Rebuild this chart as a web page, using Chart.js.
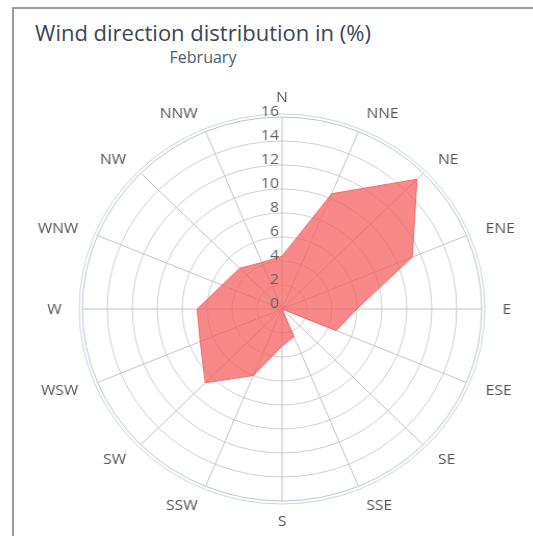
<!DOCTYPE html>
<html>
<head>
<meta charset="utf-8">
<script src="https://cdn.jsdelivr.net/npm/chart.js@4.4.1/dist/chart.umd.min.js"></script>
<style>
  html,body{margin:0;padding:0;background:#fff;overflow:hidden}
  body{width:533px;height:536px;position:relative;font-family:"Open Sans",sans-serif}
  #frame{position:absolute;left:12px;top:7px;width:700px;height:700px;border:2px solid #9c9c9c;box-sizing:border-box}
  #title{position:absolute;left:0;width:406px;top:21px;font-size:22px;line-height:1;color:#3d4652;white-space:nowrap;text-align:center}
  #sub{position:absolute;left:0;width:406px;top:49px;font-size:16px;line-height:1;color:#4b5c6e;text-align:center}
  #wrap{position:absolute;left:22px;top:0;width:520px;height:536px;transform:scaleX(1.04);transform-origin:260px 0}
</style>
</head>
<body>
<div id="frame"></div>
<div id="title">Wind direction distribution in (%)</div>
<div id="sub">February</div>
<div id="wrap"><canvas id="rose" width="520" height="536"></canvas></div>
<script>
const directions = ['N','NNE','NE','ENE','E','ESE','SE','SSE','S','SSW','SW','WSW','W','WNW','NW','NNW']
const february = [4.4, 10.4, 15.3, 11.3, 6.0, 4.7, 0, 2.5, 3.1, 6.0, 8.7, 7.1, 6.8, 5.2, 4.8, 4.2]
const radialMin = 0
const radialMax = 16
const radialStep = 2

// pane ring, tick labels left of the N axis, direction labels pushed out sideways
const roseExtras = {
  id: 'roseExtras',
  beforeDatasetsDraw(chart){
    const s = chart.scales.r, ctx = chart.ctx
    ctx.save()
    ctx.strokeStyle = '#c8d5e3'
    ctx.lineWidth = 1
    ctx.beginPath()
    ctx.arc(s.xCenter, s.yCenter, s.drawingArea + 3, 0, Math.PI*2)
    ctx.stroke()
    ctx.restore()
  },
  afterDatasetsDraw(chart){
    const s = chart.scales.r, ctx = chart.ctx
    ctx.save()
    ctx.font = '15px "Open Sans"'
    ctx.fillStyle = '#606060'
    ctx.textAlign = 'right'
    ctx.textBaseline = 'middle'
    s.ticks.forEach(t => ctx.fillText(t.label, s.xCenter - 3, s.yCenter - s.getDistanceFromCenterForValue(t.value) - 5))

    ctx.fillStyle = '#555'
    s.getLabels().forEach((lab, i) => {
      const p = s.getPointPosition(i, s.drawingArea + 20)
      const dx = p.x - s.xCenter
      ctx.textAlign = Math.abs(dx) < 1 ? 'center' : (dx > 0 ? 'left' : 'right')
      ctx.fillText(lab, p.x, p.y + 1)
    })
    ctx.restore()
  }
}

new Chart(document.getElementById('rose'), {
  type: 'radar',
  data: {
    labels: directions,
    datasets: [{
      label: 'February',
      data: february,
      backgroundColor: 'rgba(246,92,92,0.72)',
      borderColor: 'rgba(240,100,100,0.9)',
      borderWidth: 1,
      pointRadius: 0,
      tension: 0
    }]
  },
  options: {
    responsive: false,
    animation: false,
    devicePixelRatio: 1,
    layout: { padding: { left: 68, right: 68, top: 117, bottom: 35 } },
    plugins: { legend: {display:false}, tooltip: {enabled:false} },
    scales: {
      r: {
        min: radialMin,
        max: radialMax,
        ticks: { stepSize: radialStep, display: false },
        grid: { circular: true, color: ctx => ctx.index === 8 ? '#b9c6d4' : '#cfcfcf', lineWidth: 1 },
        angleLines: { color: '#c4c4c4', lineWidth: 1 },
        pointLabels: { display: false }
      }
    }
  },
  plugins: [roseExtras]
})
</script>
</body>
</html>
